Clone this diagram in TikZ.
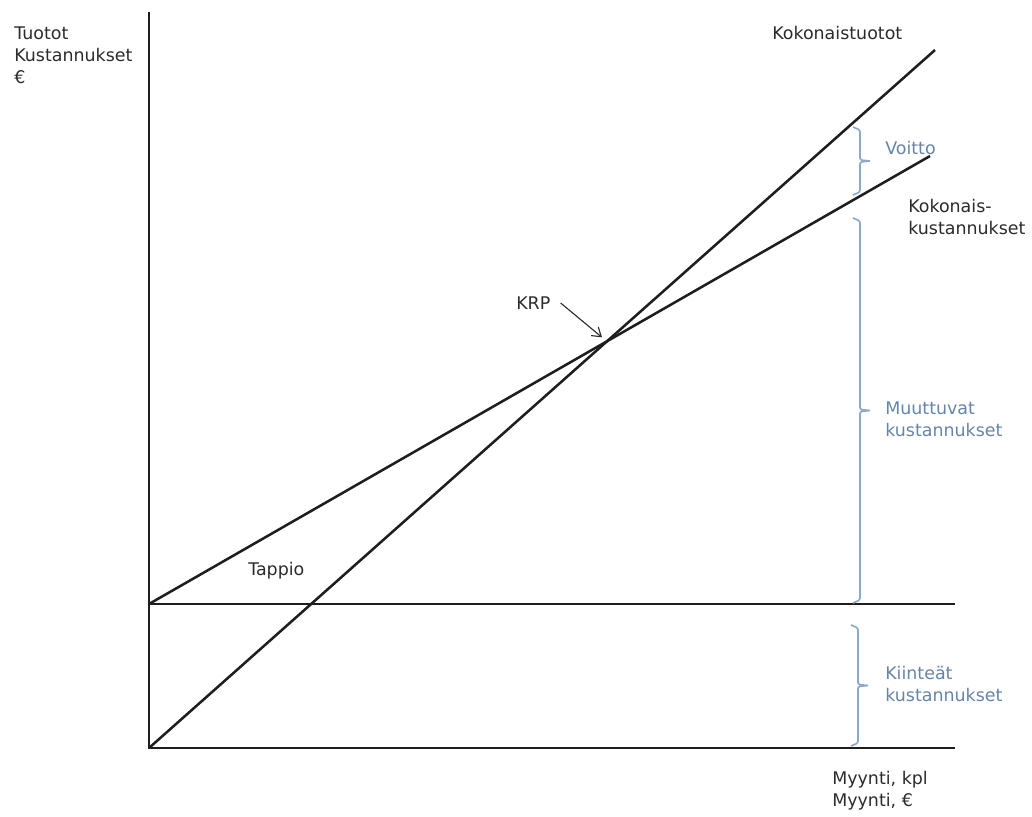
\documentclass[tikz,border=0pt]{standalone}
\usepackage{fontspec}
\setmainfont{DejaVu Sans}
\usepackage{tikz}
\usetikzlibrary{arrows.meta,calc,intersections}
\definecolor{braceColor}{HTML}{8EA9C6}
\definecolor{labelBlue}{HTML}{6585A8}
\definecolor{lineColor}{HTML}{1E1E1E}
\definecolor{textColor}{HTML}{2B2B2B}
% bracket-like brace: x of stem, top y, bottom y
\newcommand{\costBrace}[3]{%
  \draw[braceLine] (#1-7,#2) -- (#1,#2+3) -- (#1,{(#2+#3)/2-1}) -- (#1+10,{(#2+#3)/2})
    (#1+10,{(#2+#3)/2}) -- (#1,{(#2+#3)/2+1}) -- (#1,#3-3) -- (#1-7,#3);}

\begin{document}
\begin{tikzpicture}[x=0.025cm,y=-0.025cm,
axis/.style={line width=2.1pt,draw=lineColor},
curve/.style={line width=1.8pt,draw=lineColor},
braceLine/.style={draw=braceColor,line width=1.2pt,rounded corners=1.5pt},
lbl/.style={font=\fontsize{12.4}{15.6}\selectfont,text=textColor,inner sep=0,align=left,anchor=west},
blueLbl/.style={lbl,text=labelBlue},
krpArrow/.style={-{Straight Barb[length=6pt,width=8pt]},line width=0.8pt,draw=textColor}
]
\useasboundingbox (0,0) rectangle (1032,816);
% axes and fixed costs
\coordinate (origin) at (149,748);
\coordinate (yTop) at (149,12);
\coordinate (xEnd) at (955,748);
\coordinate (fixStart) at (149,604);
\coordinate (fixEnd) at (955,604);
\coordinate (revEnd) at (935,50);
\coordinate (costEnd) at (930,156);
\draw[axis] (yTop) -- (origin) -- (xEnd);
\draw[axis] (fixStart) -- (fixEnd);
\draw[curve,name path=rev] (origin) -- (revEnd);
\draw[curve,name path=cost] (fixStart) -- (costEnd);
\path[name intersections={of=rev and cost,by=krp}];
% texts
\node[lbl] (yLabel) at (14,55) {Tuotot\\Kustannukset\\€};
\node[lbl] (revLabel) at (772,33) {Kokonaistuotot};
\node[lbl] (costLabel) at (908,217) {Kokonais-\\kustannukset};
\node[lbl] (krpLabel) at (516,303) {KRP};
\node[lbl] (lossLabel) at (248,571) {Tappio};
\node[lbl] (xLabel) at (832,791) {Myynti, kpl\\Myynti, €};
\coordinate (krpStart) at ($(krpLabel.east)+(10,0)$);
\draw[krpArrow] (krpStart) -- ($(krp)+(-5,-4)$);
% braces
\costBrace{860}{127}{195}
\costBrace{860}{218}{603}
\costBrace{858}{625}{746}
\node[blueLbl] (profitLabel) at (885,148) {Voitto};
\node[blueLbl] (varLabel) at (885,419) {Muuttuvat\\kustannukset};
\node[blueLbl] (fixLabel) at (885,684) {Kiinteät\\kustannukset};
\end{tikzpicture}
\end{document}
